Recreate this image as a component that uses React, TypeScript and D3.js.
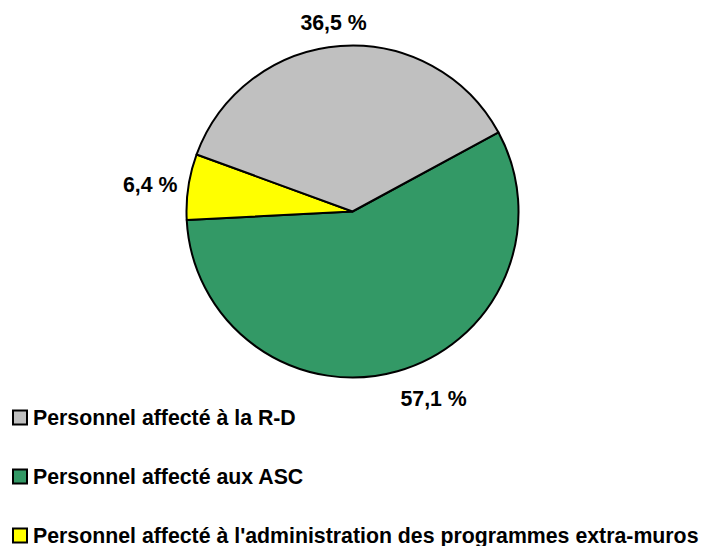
import React from "react";
import * as d3 from "d3";

const categories = [
  "Personnel affecté aux ASC",
  "Personnel affecté à l'administration des programmes extra-muros",
  "Personnel affecté à la R-D",
];
const values = [57.1, 6.4, 36.5];
const valueLabels = ["57,1 %", "6,4 %", "36,5 %"];
const colors = ["#339966", "#FFFF00", "#C0C0C0"];
const legendOrder = [2, 0, 1];

const W = 703;
const H = 546;
const cx = 352.5;
const cy = 211.5;
const R = 166;
const startDeg = 61.5;
const font = "'Liberation Sans', Arial, sans-serif";

export default function App() {
  const pie = d3
    .pie<number>()
    .sort(null)
    .value((d) => d)
    .startAngle((startDeg * Math.PI) / 180)
    .endAngle(((startDeg + 360) * Math.PI) / 180);
  const arcs = pie(values);
  const arc = d3.arc<d3.PieArcDatum<number>>().innerRadius(0).outerRadius(R);

  const legendY = d3
    .scalePoint<number>()
    .domain(legendOrder)
    .range([417.5, 535.5]);

  return (
    <svg
      width={W}
      height={H}
      style={{ position: "absolute", left: 0, top: 0, background: "#fff" }}
    >
      <g transform={`translate(${cx},${cy})`}>
        {arcs.map((a, i) => (
          <path
            key={i}
            d={arc(a) || ""}
            fill={colors[i]}
            stroke="#000"
            strokeWidth={2}
            strokeLinejoin="round"
          />
        ))}
        {arcs.map((a, i) => {
          const mid = (a.startAngle + a.endAngle) / 2;
          const s = Math.sin(mid);
          const c = Math.cos(mid);
          const rr = R + 11;
          const x = s * rr;
          const y = -c * rr;
          const anchor = s > 0.2 ? "start" : s < -0.2 ? "end" : "middle";
          const baseline = y + 9.5 - c * 15;
          return (
            <text
              key={"l" + i}
              x={anchor === "middle" ? x - 6 : x}
              y={baseline}
              textAnchor={anchor}
              fontFamily={font}
              fontWeight="bold"
              fontSize={21.3}
              fill="#000"
            >
              {valueLabels[i]}
            </text>
          );
        })}
      </g>
      {legendOrder.map((idx) => {
        const yc = legendY(idx) as number;
        return (
          <g key={"lg" + idx}>
            <rect
              x={13}
              y={yc - 7}
              width={14}
              height={14}
              fill={colors[idx]}
              stroke="#000"
              strokeWidth={2}
            />
            <text
              x={33}
              y={yc + 7.5}
              fontFamily={font}
              fontWeight="bold"
              fontSize={21.3}
              fill="#000"
            >
              {categories[idx]}
            </text>
          </g>
        );
      })}
    </svg>
  );
}
